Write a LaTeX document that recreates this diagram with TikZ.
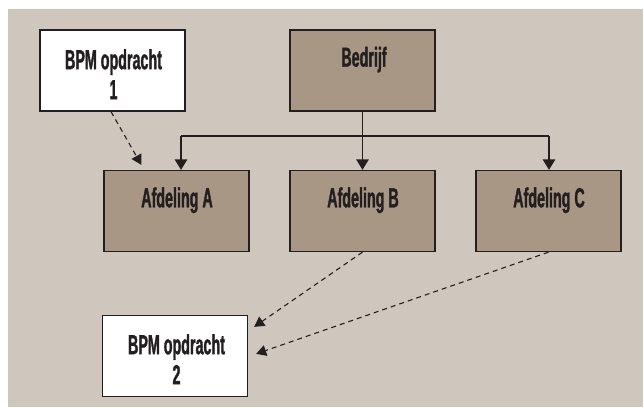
\documentclass[tikz,border=0pt]{standalone}
\usepackage{fontspec}
\newfontfamily\cond[FakeStretch=0.52,FakeBold=1.2]{Liberation Sans Bold}
\usetikzlibrary{arrows.meta,calc}
\definecolor{bgc}{RGB}{207,198,189}
\definecolor{boxc}{RGB}{168,151,133}
\definecolor{ink}{RGB}{35,31,32}
\begin{document}
\begin{tikzpicture}[x=1pt,y=-1pt,
  box/.style={draw=ink,line width=1.3pt,minimum width=145pt,minimum height=81pt,inner sep=0pt,anchor=center},
  brownbox/.style={box,fill=boxc},
  whitebox/.style={box,fill=white},
  lbl/.style={font=\cond\fontsize{27.5}{30}\selectfont,text=ink,inner sep=0pt,align=center},
  tree/.style={draw=ink,line width=1.3pt},
  treearrow/.style={tree,-{Triangle[length=10.5pt,width=12.5pt]}},
  dasharrow/.style={draw=ink,line width=1.1pt,dash pattern=on 5pt off 4pt,-{Triangle[length=10pt,width=11pt]}}]
\useasboundingbox (0,0) rectangle (644,407);
\fill[white] (0,0) rectangle (644,407);
\fill[bgc] (8,9) rectangle (643,407);
% boxes
\node[whitebox] (bpm1) at (112.5,70.5) {};
\node[brownbox] (bed) at (362.5,70.5) {};
\node[brownbox] (A) at (176.5,211) {};
\node[brownbox] (B) at (362.5,211) {};
\node[brownbox] (C) at (548.5,211) {};
\node[whitebox] (bpm2) at (175,356) {};
% texts
\node[lbl,anchor=center] (t1) at (113.5,74.2) {BPM opdracht\\1};
\node[lbl,anchor=base] (tb) at (364,66.7) {Bedrijf};
\node[lbl,anchor=base] (ta) at (177,207.3) {Afdeling A};
\node[lbl,anchor=base] (tbb) at (363,207.3) {Afdeling B};
\node[lbl,anchor=base] (tc) at (549,207.3) {Afdeling C};
\node[lbl,anchor=center] (t2) at (176.5,359.2) {BPM opdracht\\2};
% tree
\coordinate (jA) at (181,136);
\coordinate (jC) at (549,136);
\draw[tree] (jA) -- (jC);
\draw[treearrow] (jA) -- (jA |- A.north);
\draw[treearrow] (jC) -- (jC |- C.north);
\draw[treearrow] (bed.south) -- (B.north);
% dashed
\coordinate (e1) at ($(A.north west)+(38,-5)$);
\coordinate (e2) at ($(bpm2.north east)+(6,12)$);
\coordinate (e3) at ($(bpm2.north east)+(8,39)$);
\draw[dasharrow] ($(bpm1.south)+(-1.5,0)$) -- (e1);
\draw[dasharrow] (B.south) -- (e2);
\draw[dasharrow] (C.south) -- (e3);
\end{tikzpicture}
\end{document}
